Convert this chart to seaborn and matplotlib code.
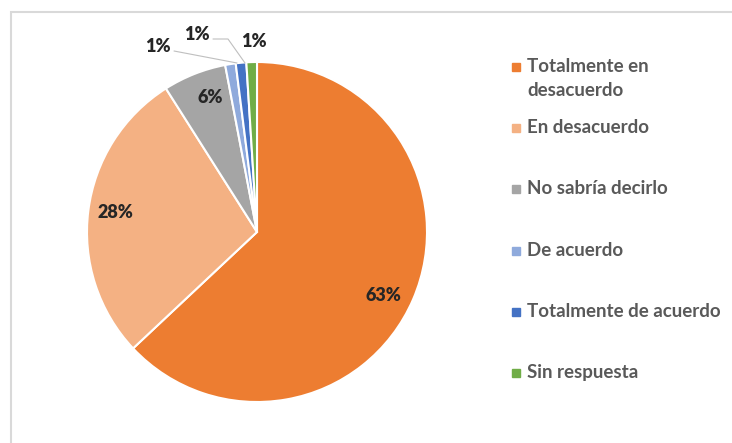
"""
Pie chart: distribution of answers (Totalmente en desacuerdo ... Sin respuesta).
"""
import matplotlib
matplotlib.use("Agg")
import matplotlib.pyplot as plt
from matplotlib.patches import Rectangle
from matplotlib.lines import Line2D
import seaborn as sns

# Data
categories = [
    "Totalmente en\ndesacuerdo",
    "En desacuerdo",
    "No sabría decirlo",
    "De acuerdo",
    "Totalmente de acuerdo",
    "Sin respuesta",
]
values = [63, 28, 6, 1, 1, 1]
pct_labels = ["63%", "28%", "6%", "1%", "1%", "1%"]

sns.set_style("white")
plt.rcParams["font.family"] = ["Lato", "DejaVu Sans"]

colors = sns.color_palette(["#ED7D31", "#F4B183", "#A5A5A5", "#8FAADC", "#4472C4", "#70AD47"])

W, H = 732, 443
fig = plt.figure(figsize=(W / 100, H / 100), dpi=100)

# chart frame (light grey border)
fig.add_artist(Rectangle((11 / W, -0.1), 1.2, (H - 12) / H + 0.1,
                         transform=fig.transFigure, fill=False,
                         edgecolor="#D9D9D9", linewidth=1.5))

# pie axes: centre (257, 232) px, radius 170 px
cx, cy, r = 257, 232, 170
ax = fig.add_axes([(cx - r) / W, (H - cy - r) / H, 2 * r / W, 2 * r / H])
wedges, _ = ax.pie(values, colors=colors, startangle=90, counterclock=False,
                   radius=1.0, wedgeprops=dict(edgecolor="white", linewidth=1.5))
ax.set_xlim(-1, 1)
ax.set_ylim(-1, 1)
ax.set_aspect("equal")
ax.axis("off")

# percentage labels (positions in data units of the pie)
label_pos = [(0.741, -0.371), (-0.835, 0.112), (-0.276, 0.794),
             (-0.582, 1.094), (-0.353, 1.159), (-0.018, 1.118)]
for (x, y), txt in zip(label_pos, pct_labels):
    ax.text(x, y, txt, ha="center", va="center", fontsize=13,
            fontweight="heavy", color="#262626", clip_on=False)

# leader lines for the two small slices
def px(xp, yp):
    return ((xp - cx) / r, (cy - yp) / r)

lead1 = [px(174, 51), px(237, 63)]
lead2 = [px(213, 39), px(228, 39), px(245, 63)]
for pts in (lead1, lead2):
    xs, ys = zip(*pts)
    ax.add_line(Line2D(xs, ys, color="#BFBFBF", linewidth=0.8, clip_on=False))

# legend on the right
for i, (lab, col) in enumerate(zip(categories, colors)):
    y_line = 67 + i * 61.2
    fig.add_artist(Line2D([516 / W], [1 - y_line / H], marker="s", markersize=5.5,
                          color=col, linestyle="none", transform=fig.transFigure))
    fig.text(527 / W, 1 - (y_line - 9) / H, lab, ha="left", va="top",
             fontsize=13.5, fontweight="bold", color="#595959", linespacing=1.5)

fig.savefig("out.png", dpi=100)
plt.close(fig)
